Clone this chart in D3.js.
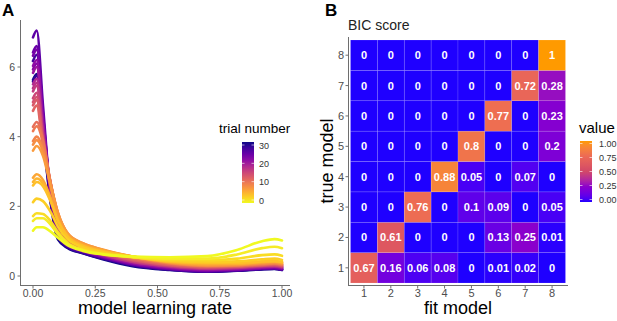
<!DOCTYPE html>
<html>
<head>
<meta charset="utf-8">
<script src="https://cdn.jsdelivr.net/npm/d3@7"></script>
<style>
  body { margin: 0; background: #fff; }
  text { font-family: "Liberation Sans", Arial, sans-serif; }
</style>
</head>
<body>
<main></main>
<script>
// panel A data: density of model learning rate per trial
const knots = [0, 0.015, 0.04, 0.07, 0.1, 0.14, 0.2, 0.28, 0.4, 0.55, 0.7, 0.82, 0.92, 0.97, 1.0];
const trials = [0, 1, 2, 3, 4, 5, 6, 7, 8, 9, 10, 11, 12, 13, 14, 15, 16, 17, 18, 20, 21, 22, 23, 24, 25, 27, 28, 30];
const densities = [
  [1.30, 1.40, 1.40, 1.28, 1.10, 0.88, 0.72, 0.62, 0.56, 0.54, 0.57, 0.75, 1.00, 1.06, 1.02],
  [1.58, 1.66, 1.66, 1.48, 1.20, 0.92, 0.74, 0.63, 0.55, 0.50, 0.50, 0.62, 0.80, 0.84, 0.80],
  [1.72, 1.80, 1.78, 1.58, 1.26, 0.95, 0.76, 0.64, 0.54, 0.46, 0.45, 0.50, 0.60, 0.62, 0.58],
  [2.12, 2.22, 2.15, 1.85, 1.42, 1.05, 0.82, 0.68, 0.55, 0.44, 0.40, 0.42, 0.48, 0.50, 0.46],
  [2.60, 2.70, 2.58, 2.15, 1.58, 1.12, 0.86, 0.70, 0.56, 0.42, 0.38, 0.38, 0.42, 0.43, 0.40],
  [2.70, 2.80, 2.66, 2.20, 1.60, 1.14, 0.88, 0.72, 0.55, 0.41, 0.36, 0.36, 0.40, 0.42, 0.40],
  [2.82, 2.92, 2.76, 2.26, 1.64, 1.15, 0.90, 0.74, 0.56, 0.40, 0.34, 0.35, 0.40, 0.41, 0.38],
  [3.60, 3.73, 3.45, 2.60, 1.80, 1.22, 0.94, 0.76, 0.56, 0.39, 0.32, 0.33, 0.38, 0.40, 0.37],
  [3.77, 3.90, 3.58, 2.65, 1.82, 1.22, 0.94, 0.75, 0.55, 0.38, 0.30, 0.32, 0.36, 0.38, 0.35],
  [3.87, 4.00, 3.66, 2.68, 1.82, 1.20, 0.92, 0.74, 0.54, 0.37, 0.30, 0.31, 0.36, 0.37, 0.34],
  [4.16, 4.30, 3.85, 2.70, 1.78, 1.18, 0.90, 0.72, 0.52, 0.36, 0.29, 0.30, 0.34, 0.36, 0.33],
  [4.28, 4.42, 3.92, 2.70, 1.75, 1.16, 0.88, 0.70, 0.51, 0.35, 0.28, 0.30, 0.33, 0.35, 0.32],
  [4.74, 4.89, 3.75, 2.70, 1.65, 1.10, 0.85, 0.68, 0.48, 0.33, 0.27, 0.28, 0.32, 0.34, 0.31],
  [4.90, 5.05, 3.85, 2.68, 1.60, 1.08, 0.84, 0.66, 0.46, 0.32, 0.26, 0.28, 0.31, 0.33, 0.30],
  [4.99, 5.14, 3.90, 2.65, 1.56, 1.06, 0.82, 0.65, 0.45, 0.31, 0.25, 0.27, 0.30, 0.32, 0.29],
  [5.10, 5.26, 3.95, 2.62, 1.52, 1.04, 0.81, 0.64, 0.44, 0.30, 0.24, 0.26, 0.30, 0.31, 0.28],
  [5.30, 5.46, 4.05, 2.58, 1.48, 1.02, 0.80, 0.62, 0.42, 0.29, 0.23, 0.25, 0.29, 0.30, 0.27],
  [5.39, 5.55, 4.10, 2.55, 1.45, 1.00, 0.79, 0.61, 0.41, 0.28, 0.22, 0.24, 0.28, 0.29, 0.26],
  [5.50, 5.66, 4.15, 2.52, 1.42, 0.98, 0.78, 0.60, 0.40, 0.27, 0.21, 0.23, 0.27, 0.28, 0.25],
  [5.83, 6.00, 4.35, 2.48, 1.36, 0.95, 0.76, 0.58, 0.38, 0.25, 0.19, 0.21, 0.25, 0.27, 0.24],
  [6.03, 6.20, 4.45, 2.45, 1.32, 0.93, 0.75, 0.57, 0.37, 0.24, 0.18, 0.20, 0.24, 0.26, 0.23],
  [5.93, 6.10, 4.40, 2.44, 1.32, 0.92, 0.74, 0.56, 0.36, 0.23, 0.17, 0.20, 0.24, 0.25, 0.22],
  [6.32, 6.50, 4.60, 2.40, 1.26, 0.90, 0.72, 0.55, 0.35, 0.22, 0.16, 0.19, 0.23, 0.24, 0.21],
  [6.42, 6.60, 4.65, 2.38, 1.24, 0.88, 0.71, 0.54, 0.34, 0.21, 0.15, 0.18, 0.22, 0.23, 0.20],
  [6.85, 7.05, 4.90, 2.35, 1.20, 0.86, 0.70, 0.53, 0.33, 0.20, 0.14, 0.17, 0.21, 0.22, 0.19],
  [6.17, 6.35, 4.50, 2.30, 1.16, 0.84, 0.68, 0.51, 0.32, 0.19, 0.13, 0.16, 0.20, 0.21, 0.18],
  [5.58, 5.75, 4.10, 2.20, 1.10, 0.82, 0.66, 0.50, 0.30, 0.18, 0.12, 0.16, 0.20, 0.21, 0.18],
  [5.63, 5.80, 4.10, 2.15, 1.05, 0.80, 0.65, 0.48, 0.28, 0.17, 0.12, 0.15, 0.19, 0.20, 0.17]
];
const xTicksA = [0, 0.25, 0.5, 0.75, 1];
const yTicksA = [0, 2, 4, 6];
const trialTicks = [0, 10, 20, 30];

// panel B data: BIC confusion matrix
const models = [1, 2, 3, 4, 5, 6, 7, 8];
const bic = [ // rows = true model 1..8, cols = fit model 1..8
  [0.67, 0.16, 0.06, 0.08, 0, 0.01, 0.02, 0],
  [0, 0.61, 0, 0, 0, 0.13, 0.25, 0.01],
  [0, 0, 0.76, 0, 0.1, 0.09, 0, 0.05],
  [0, 0, 0, 0.88, 0.05, 0, 0.07, 0],
  [0, 0, 0, 0, 0.8, 0, 0, 0.2],
  [0, 0, 0, 0, 0, 0.77, 0, 0.23],
  [0, 0, 0, 0, 0, 0, 0.72, 0.28],
  [0, 0, 0, 0, 0, 0, 0, 1]
];
const valueTicks = [0, 0.25, 0.5, 0.75, 1];
const valueColors = ["#1f00ff", "#8a00cc", "#d24868", "#ec6a55", "#ff9a00"];

const w = 617, h = 321;
const svg = d3.select('main').append('svg').attr('width', w).attr('height', h);
svg.append('rect').attr('width', w).attr('height', h).attr('fill', '#fff');

const grey = '#4d4d4d';
const axisCol = '#6e6e6e';

// ---------- panel A ----------
const x = d3.scaleLinear().domain([0, 1]).range([33, 282]);
const y = d3.scaleLinear().domain([0, 6]).range([276, 67]);
const trialColor = d3.scaleSequential(t => d3.interpolatePlasma(1 - t)).domain([0, 30]);

svg.append('text').attr('x', 2).attr('y', 16).attr('font-size', 17).attr('font-weight', 'bold').text('A');

const line = d3.line().x(d => x(d[0])).y(d => y(d[1])).curve(d3.curveMonotoneX);
const curves = trials.map((t, i) => ({ trial: t, pts: knots.map((k, j) => [k, densities[i][j]]) }));

svg.append('g').selectAll('path')
  .data(curves.slice().reverse())
  .enter().append('path')
  .attr('d', d => line(d.pts))
  .attr('fill', 'none')
  .attr('stroke', d => trialColor(d.trial))
  .attr('stroke-width', 2.6)
  .attr('stroke-linecap', 'round');

const axA = svg.append('g').attr('font-size', 10.5).attr('fill', grey);
axA.append('line').attr('x1', 20.5).attr('x2', 20.5).attr('y1', 20).attr('y2', 286).attr('stroke', axisCol);
axA.append('line').attr('x1', 20).attr('x2', 290).attr('y1', 285.5).attr('y2', 285.5).attr('stroke', axisCol);
axA.selectAll('.yt').data(yTicksA).enter().append('line')
  .attr('x1', 17.5).attr('x2', 20.5).attr('y1', d => y(d)).attr('y2', d => y(d)).attr('stroke', axisCol);
axA.selectAll('.yl').data(yTicksA).enter().append('text')
  .attr('x', 15).attr('y', d => y(d) + 4).attr('text-anchor', 'end').attr('fill', grey).text(d => d);
axA.selectAll('.xt').data(xTicksA).enter().append('line')
  .attr('x1', d => x(d)).attr('x2', d => x(d)).attr('y1', 285.5).attr('y2', 288.5).attr('stroke', axisCol);
axA.selectAll('.xl').data(xTicksA).enter().append('text')
  .attr('x', d => x(d)).attr('y', 297).attr('text-anchor', 'middle').attr('fill', grey).text(d3.format('.2f'));

svg.append('text').attr('x', 155).attr('y', 314).attr('text-anchor', 'middle')
  .attr('font-size', 18).text('model learning rate');

// trial number legend
const defs = svg.append('defs');
const gradA = defs.append('linearGradient').attr('id', 'gradA').attr('x1', 0).attr('x2', 0).attr('y1', 1).attr('y2', 0);
d3.range(0, 1.0001, 0.1).forEach(o => gradA.append('stop').attr('offset', o).attr('stop-color', d3.interpolatePlasma(1 - o)));
svg.append('text').attr('x', 219).attr('y', 133).attr('font-size', 13.5).text('trial number');
const ty = d3.scaleLinear().domain([0, 30]).range([200, 145]);
svg.append('rect').attr('x', 242).attr('y', 142).attr('width', 12).attr('height', 61).attr('fill', 'url(#gradA)');
svg.selectAll('.tl').data(trialTicks).enter().append('text')
  .attr('x', 259).attr('y', d => ty(d) + 3.5).attr('font-size', 9).attr('fill', '#333').text(d => d);
svg.selectAll('.tk').data(trialTicks).enter().append('g').each(function (d) {
  d3.select(this).append('line').attr('x1', 242).attr('x2', 244.5).attr('y1', ty(d)).attr('y2', ty(d)).attr('stroke', '#fff').attr('stroke-opacity', 0.6);
  d3.select(this).append('line').attr('x1', 251.5).attr('x2', 254).attr('y1', ty(d)).attr('y2', ty(d)).attr('stroke', '#fff').attr('stroke-opacity', 0.6);
});

// ---------- panel B ----------
svg.append('text').attr('x', 325).attr('y', 16).attr('font-size', 17).attr('font-weight', 'bold').text('B');
svg.append('text').attr('x', 348).attr('y', 30).attr('font-size', 14).attr('fill', '#222').text('BIC score');

const bx = d3.scaleBand().domain(models).range([350.5, 565.5]);
const by = d3.scaleBand().domain(models).range([283, 40]);
const fill = d3.scaleLinear().domain(valueTicks).range(valueColors).interpolate(d3.interpolateLab);

const cells = [];
bic.forEach((row, i) => row.forEach((v, j) => cells.push({ t: models[i], f: models[j], v: v })));

const cg = svg.append('g');
cg.selectAll('rect').data(cells).enter().append('rect')
  .attr('x', d => bx(d.f)).attr('y', d => by(d.t))
  .attr('width', bx.bandwidth()).attr('height', by.bandwidth())
  .attr('fill', d => fill(d.v))
  .attr('stroke', 'rgba(255,255,255,0.22)').attr('stroke-width', 0.6);
cg.selectAll('text').data(cells).enter().append('text')
  .attr('x', d => bx(d.f) + bx.bandwidth() / 2).attr('y', d => by(d.t) + by.bandwidth() / 2 + 4)
  .attr('text-anchor', 'middle').attr('font-size', 11).attr('font-weight', 'bold').attr('fill', '#fff')
  .text(d => d.v);

const axB = svg.append('g').attr('font-size', 11);
axB.append('line').attr('x1', 348.5).attr('x2', 348.5).attr('y1', 37).attr('y2', 286).attr('stroke', axisCol);
axB.append('line').attr('x1', 348).attr('x2', 568).attr('y1', 285.5).attr('y2', 285.5).attr('stroke', axisCol);
axB.selectAll('.yt').data(models).enter().append('line')
  .attr('x1', 345.5).attr('x2', 348.5)
  .attr('y1', d => by(d) + by.bandwidth() / 2).attr('y2', d => by(d) + by.bandwidth() / 2).attr('stroke', axisCol);
axB.selectAll('.yl').data(models).enter().append('text')
  .attr('x', 344).attr('y', d => by(d) + by.bandwidth() / 2 + 4).attr('text-anchor', 'end').attr('fill', grey).text(d => d);
axB.selectAll('.xt').data(models).enter().append('line')
  .attr('x1', d => bx(d) + bx.bandwidth() / 2).attr('x2', d => bx(d) + bx.bandwidth() / 2)
  .attr('y1', 285.5).attr('y2', 288.5).attr('stroke', axisCol);
axB.selectAll('.xl').data(models).enter().append('text')
  .attr('x', d => bx(d) + bx.bandwidth() / 2).attr('y', 297).attr('text-anchor', 'middle').attr('fill', grey).text(d => d);

svg.append('text').attr('x', 458).attr('y', 314).attr('text-anchor', 'middle').attr('font-size', 18).text('fit model');
svg.append('text').attr('transform', 'translate(333,161) rotate(-90)').attr('text-anchor', 'middle')
  .attr('font-size', 18).text('true model');

// value legend
const gradB = defs.append('linearGradient').attr('id', 'gradB').attr('x1', 0).attr('x2', 0).attr('y1', 1).attr('y2', 0);
d3.range(0, 1.0001, 0.05).forEach(o => gradB.append('stop').attr('offset', o).attr('stop-color', fill(o)));
svg.append('text').attr('x', 579).attr('y', 133).attr('font-size', 15).text('value');
const vy = d3.scaleLinear().domain([0, 1]).range([199.5, 143.5]);
svg.append('rect').attr('x', 580).attr('y', 141).attr('width', 12).attr('height', 61).attr('fill', 'url(#gradB)');
svg.selectAll('.vl').data(valueTicks).enter().append('text')
  .attr('x', 599).attr('y', d => vy(d) + 3.5).attr('font-size', 9).attr('fill', '#333').text(d3.format('.2f'));
svg.selectAll('.vk').data(valueTicks).enter().append('g').each(function (d) {
  d3.select(this).append('line').attr('x1', 580).attr('x2', 582.5).attr('y1', vy(d)).attr('y2', vy(d)).attr('stroke', '#fff').attr('stroke-opacity', 0.6);
  d3.select(this).append('line').attr('x1', 589.5).attr('x2', 592).attr('y1', vy(d)).attr('y2', vy(d)).attr('stroke', '#fff').attr('stroke-opacity', 0.6);
});
</script>
</body>
</html>
